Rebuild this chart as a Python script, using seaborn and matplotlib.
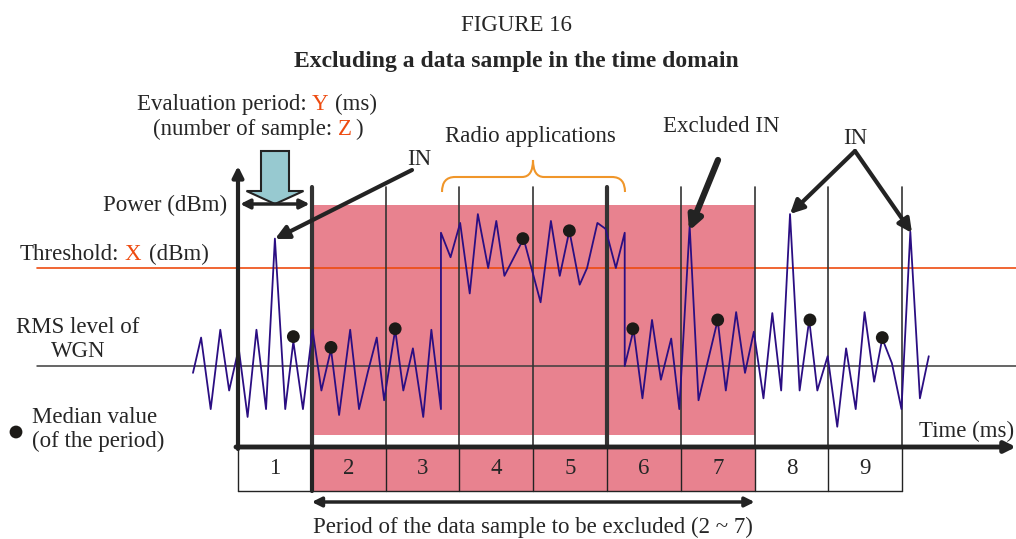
import numpy as np
import pandas as pd
import matplotlib
matplotlib.use("Agg")
import matplotlib.pyplot as plt
import seaborn as sns
from matplotlib.patches import Rectangle, FancyArrow, PathPatch
from matplotlib.path import Path

# time in evaluation periods (1 period = Y ms), power relative to RMS level (threshold = 1)
sig_t = [-0.61, -0.50, -0.37, -0.24, -0.12, 0.01, 0.13, 0.25, 0.38, 0.50,
         0.64, 0.75, 0.88, 1.01, 1.13, 1.26, 1.37, 1.52, 1.64, 1.76,
         1.88, 1.98, 2.13, 2.24, 2.37, 2.51, 2.62, 2.75, 2.75, 2.88,
         3.01, 3.14, 3.25, 3.39, 3.50, 3.61, 3.87, 4.10, 4.24, 4.36,
         4.49, 4.63, 4.73, 4.87, 4.98, 5.12, 5.24, 5.24, 5.36, 5.48,
         5.61, 5.73, 5.87, 5.98, 6.12, 6.24, 6.50, 6.61, 6.75, 6.87,
         6.99, 7.12, 7.24, 7.36, 7.48, 7.61, 7.74, 7.85, 7.99, 8.12,
         8.24, 8.37, 8.49, 8.62, 8.73, 8.86, 8.99, 9.11, 9.24, 9.36]
sig_p = [-0.07, 0.29, -0.44, 0.37, -0.25, 0.18, -0.52, 0.37, -0.44, 1.30,
         -0.44, 0.25, -0.44, 0.37, -0.25, 0.17, -0.50, 0.37, -0.44, -0.06,
         0.29, -0.35, 0.37, -0.25, 0.18, -0.52, 0.37, -0.44, 1.36, 1.11,
         1.46, 0.74, 1.55, 1.00, 1.48, 0.92, 1.30, 0.65, 1.48, 0.92,
         1.38, 0.83, 1.00, 1.46, 1.40, 1.00, 1.36, 0.00, 0.37, -0.33,
         0.47, -0.14, 0.28, -0.44, 1.43, -0.35, 0.47, -0.25, 0.55, -0.07,
         0.35, -0.33, 0.54, -0.25, 1.55, -0.25, 0.47, -0.25, 0.10, -0.62,
         0.18, -0.44, 0.55, -0.16, 0.28, 0.03, -0.44, 1.37, -0.33, 0.10]

# median value of each period
med_t = [0.75, 1.26, 2.13, 3.86, 4.49, 5.35, 6.50, 7.75, 8.73]
med_p = [0.30, 0.19, 0.38, 1.30, 1.38, 0.38, 0.47, 0.47, 0.29]

periods = ['1', '2', '3', '4', '5', '6', '7', '8', '9']
excl_start, excl_end = 1, 7
threshold = 1.0
rms = 0.0

sns.set_style("white")
plt.rcParams['font.family'] = ['Liberation Serif', 'DejaVu Serif']

fig = plt.figure(figsize=(10.16, 5.39), dpi=100)
ax = fig.add_axes([0, 0, 1, 1])


# pixel -> data helpers for layout
def X(px):
    return (px - 238) / 73.8


def Y(py):
    return (366 - py) / 98


pink = '#E8828F'
dark = '#232323'
red = '#EE4B10'
fs = 16.5

# shaded excluded region
ax.add_patch(Rectangle((excl_start, Y(435)), excl_end - excl_start, Y(205) - Y(435),
                       color=pink, zorder=0, lw=0))
ax.add_patch(Rectangle((excl_start, Y(491)), excl_end - excl_start, Y(447) - Y(491),
                       color=pink, zorder=0, lw=0))

# reference levels
ax.plot([X(37), X(1016)], [rms, rms], color='#3c3c3c', lw=1.1, zorder=1)
ax.plot([X(37), X(1016)], [threshold, threshold], color=red, lw=1.2, zorder=1)

# period boundaries
for i in range(1, len(periods) + 1):
    lw = 3 if i in (1, 5) else 1.2
    ax.plot([i, i], [Y(187), Y(447)], color='#333333', lw=lw, zorder=2)
    ax.plot([i, i], [Y(447), Y(491)], color=dark, lw=3 if i == 1 else 1.0, zorder=2)
ax.plot([0, 0], [Y(447), Y(491)], color=dark, lw=1.0, zorder=2)
ax.plot([0, len(periods)], [Y(491), Y(491)], color=dark, lw=1.0, zorder=2)

# signal + medians
df = pd.DataFrame({'t': sig_t, 'p': sig_p})
sns.lineplot(data=df, x='t', y='p', estimator=None, sort=False,
             color='#2B0E82', lw=1.3, ax=ax, zorder=3)
sns.scatterplot(x=med_t, y=med_p, s=85, color='#1c1a17', edgecolor='none', ax=ax, zorder=4)
ax.scatter([X(16)], [Y(432)], s=85, color='#1c1a17', edgecolor='none', zorder=4)
ax.set_xlim(X(0), X(1016))
ax.set_ylim(Y(539), Y(0))
ax.axis('off')

# axes arrows
ax.annotate('', xy=(0, Y(166)), xytext=(0, Y(449)),
            arrowprops=dict(arrowstyle='-|>', lw=3, color=dark, mutation_scale=16,
                            shrinkA=0, shrinkB=0), zorder=5)
ax.annotate('', xy=(X(1016), Y(447)), xytext=(X(236), Y(447)),
            arrowprops=dict(arrowstyle='-|>', lw=3.5, color=dark, mutation_scale=16,
                            shrinkA=0, shrinkB=0), zorder=5)

# evaluation period arrows
ax.add_patch(FancyArrow(X(275), Y(151), 0, Y(204) - Y(151), width=28 / 73.8,
                        head_width=57 / 73.8, head_length=13 / 98,
                        length_includes_head=True, facecolor='#97C9D0',
                        edgecolor=dark, lw=1.5, zorder=5))
ax.annotate('', xy=(0.03, Y(204)), xytext=(0.97, Y(204)),
            arrowprops=dict(arrowstyle='<|-|>', lw=2.5, color=dark, mutation_scale=14,
                            shrinkA=0, shrinkB=0), zorder=6)
ax.annotate('', xy=(excl_start, Y(502)), xytext=(excl_end, Y(502)),
            arrowprops=dict(arrowstyle='<|-|>', lw=2.5, color=dark, mutation_scale=14,
                            shrinkA=0, shrinkB=0), zorder=6)

# IN arrows
inkw = dict(arrowstyle='-|>', color=dark, mutation_scale=20, shrinkA=0, shrinkB=0)
ax.annotate('', xy=(X(275), Y(239)), xytext=(X(412), Y(170)),
            arrowprops=dict(lw=3, **inkw), zorder=6)
ax.annotate('', xy=(X(689), Y(231)), xytext=(X(718), Y(160)),
            arrowprops=dict(lw=4.5, **inkw), zorder=6)
ax.annotate('', xy=(X(790), Y(214)), xytext=(X(855), Y(151)),
            arrowprops=dict(lw=3, **inkw), zorder=6)
ax.annotate('', xy=(X(912), Y(233)), xytext=(X(855), Y(151)),
            arrowprops=dict(lw=3, **inkw), zorder=6)

# curly brace over radio applications
verts = [(442, 192), (442, 177), (455, 177), (522, 177), (533, 177), (533, 160),
         (533, 177), (544, 177), (612, 177), (625, 177), (625, 192)]
codes = [Path.MOVETO, Path.CURVE3, Path.CURVE3, Path.LINETO, Path.CURVE3, Path.CURVE3,
         Path.CURVE3, Path.CURVE3, Path.LINETO, Path.CURVE3, Path.CURVE3]
brace = Path([(X(a), Y(b)) for a, b in verts], codes)
ax.add_patch(PathPatch(brace, facecolor='none', edgecolor='#F0962A', lw=1.5, zorder=5))

# texts
ax.text(X(516), Y(31), 'FIGURE 16', ha='center', va='baseline', fontsize=16.5)
ax.text(X(516), Y(67), 'Excluding a data sample in the time domain', ha='center',
        va='baseline', fontsize=17, fontweight='bold')

ax.text(X(137), Y(110), 'Evaluation period:', va='baseline', fontsize=fs)
ax.text(X(312), Y(110), 'Y', va='baseline', fontsize=fs, color=red)
ax.text(X(335), Y(110), '(ms)', va='baseline', fontsize=fs)
ax.text(X(153), Y(135), '(number of sample:', va='baseline', fontsize=fs)
ax.text(X(338), Y(135), 'Z', va='baseline', fontsize=fs, color=red)
ax.text(X(355), Y(135), ')', va='baseline', fontsize=fs)

ax.text(X(20), Y(260), 'Threshold:', va='baseline', fontsize=fs)
ax.text(X(125), Y(260), 'X', va='baseline', fontsize=fs, color=red)
ax.text(X(149), Y(260), '(dBm)', va='baseline', fontsize=fs)

ax.text(X(227), Y(211), 'Power (dBm)', ha='right', va='baseline', fontsize=fs)
ax.text(X(78), Y(333), 'RMS level of', ha='center', va='baseline', fontsize=fs)
ax.text(X(78), Y(357), 'WGN', ha='center', va='baseline', fontsize=fs)
ax.text(X(32), Y(423), 'Median value', va='baseline', fontsize=fs)
ax.text(X(32), Y(447), '(of the period)', va='baseline', fontsize=fs)

ax.text(X(530), Y(142), 'Radio applications', ha='center', va='baseline', fontsize=fs)
ax.text(X(407), Y(165), 'IN', va='baseline', fontsize=fs)
ax.text(X(663), Y(132), 'Excluded IN', va='baseline', fontsize=fs)
ax.text(X(843), Y(144), 'IN', va='baseline', fontsize=fs)
ax.text(X(1014), Y(437), 'Time (ms)', ha='right', va='baseline', fontsize=fs)

for i, lab in enumerate(periods):
    ax.text(i + 0.5, Y(469), lab, ha='center', va='center', fontsize=fs)

ax.text((excl_start + excl_end) / 2, Y(533), 'Period of the data sample to be excluded (2 ~ 7)',
        ha='center', va='baseline', fontsize=fs)

fig.savefig('out.png', dpi=100)
